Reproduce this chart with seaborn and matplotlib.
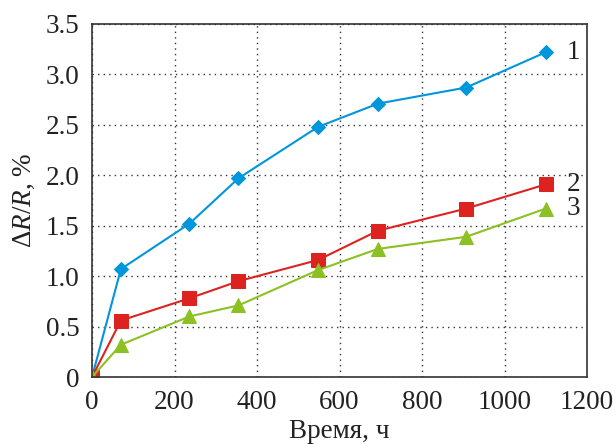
import numpy as np
import pandas as pd
import matplotlib
matplotlib.use("Agg")
import matplotlib.pyplot as plt
import seaborn as sns

# Data
hours = [0, 70, 236, 355, 548, 693, 907, 1100]
series1 = [0.0, 1.07, 1.52, 1.97, 2.48, 2.71, 2.87, 3.22]
series2 = [0.0, 0.56, 0.78, 0.95, 1.16, 1.45, 1.67, 1.91]
series3 = [0.0, 0.32, 0.60, 0.71, 1.06, 1.27, 1.39, 1.67]
series_names = ["1", "2", "3"]
x_ticks = [0, 200, 400, 600, 800, 1000, 1200]
y_ticks = [0, 0.5, 1.0, 1.5, 2.0, 2.5, 3.0, 3.5]
y_tick_labels = ["0", "0.5", "1.0", "1.5", "2.0", "2.5", "3.0", "3.5"]

sns.set_theme(style="white")
plt.rcParams["font.family"] = ["Liberation Serif", "DejaVu Serif"]
plt.rcParams["mathtext.fontset"] = "custom"
plt.rcParams["mathtext.rm"] = "Liberation Serif"
plt.rcParams["mathtext.it"] = "Liberation Serif:italic"

fig = plt.figure(figsize=(6.16, 4.44), dpi=100)
ax = fig.add_axes([0.1494, 0.1509, 0.953 - 0.1494, 0.946 - 0.1509])

colors = ["#0096DC", "#DC2320", "#8CC023"]
markers = ["D", "s", "^"]
msizes = [7.2, 9.6, 10.2]
for vals, c, m, ms in zip([series1, series2, series3], colors, markers, msizes):
    df = pd.DataFrame({"x": hours, "y": vals})
    sns.lineplot(data=df, x="x", y="y", ax=ax, color=c, linewidth=1.5,
                 marker=m, markersize=ms, markeredgecolor=c, markerfacecolor=c,
                 estimator=None, sort=False)

ax.set_xlim(0, 1200)
ax.set_ylim(0, 3.5)
ax.set_xticks(x_ticks)
ax.set_yticks(y_ticks)
ax.set_yticklabels(y_tick_labels)
ax.tick_params(axis="both", length=0, labelsize=19.5, pad=9, colors="#222222")
ax.grid(True, linestyle=(0, (1, 3)), color="#333333", linewidth=1.0)
for s in ax.spines.values():
    s.set_color("#333333")
    s.set_linewidth(1.2)

ax.set_xlabel("Время, ч", fontsize=19.5, color="#222222", labelpad=3)
ax.set_ylabel(r"$\Delta R/R$, %", fontsize=19.5, color="#222222", labelpad=6)

for name, vals in zip(series_names, [series1, series2, series3]):
    ax.annotate(name, xy=(hours[-1], vals[-1]), xytext=(15, 0),
                textcoords="offset points", fontsize=19.5, va="center",
                ha="left", color="#222222", annotation_clip=False)

fig.savefig("out.png", dpi=100)
